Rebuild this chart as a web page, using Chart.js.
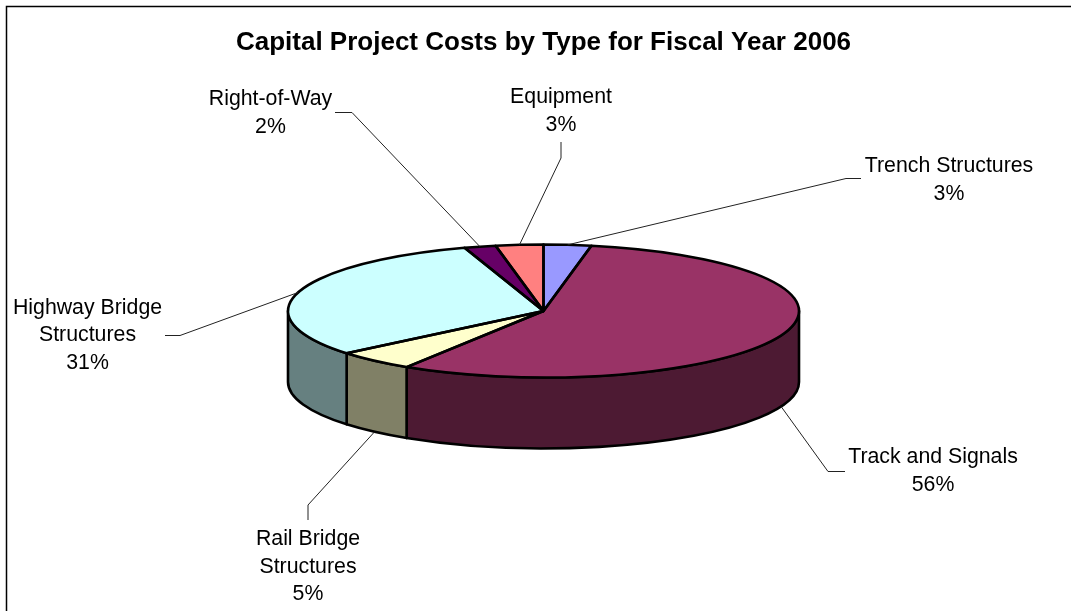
<!DOCTYPE html>
<html lang="en">
<head>
<meta charset="utf-8">
<title>Capital Project Costs by Type for Fiscal Year 2006</title>
<script src="https://cdn.jsdelivr.net/npm/chart.js@4"></script>
<style>
  html, body { margin: 0; padding: 0; background: #fff; overflow: hidden; }
  canvas { display: block; }
</style>
</head>
<body>
<canvas id="costChart" width="1071" height="611"></canvas>
<script>
const categories = ['Trench Structures', 'Track and Signals', 'Rail Bridge Structures', 'Highway Bridge Structures', 'Right-of-Way', 'Equipment'];
const shares = [3, 56, 5, 31, 2, 3];
const topColors = ['#9999FF', '#993366', '#FFFFCC', '#CCFFFF', '#660066', '#FF8080'];
const wallColors = ['#4D4D80', '#4D1A33', '#808066', '#668080', '#330033', '#804040'];

// label block per slice: wrapped lines, centre x, first baseline, then the elbow of the leader
const labelLines = [['Trench Structures'], ['Track and Signals'], ['Rail Bridge', 'Structures'], ['Highway Bridge', 'Structures'], ['Right-of-Way'], ['Equipment']];
const labelAnchors = [[949, 172], [933, 463], [308, 545], [87.5, 313.5], [270.5, 105], [561, 103]];
const leaderStarts = [[861, 178.5], [845, 471.5], [308, 520], [165, 335.5], [335, 112.5], [561, 142]];
const leaderElbows = [[846, 178.5], [828, 471.5], [308, 505], [180, 335.5], [352, 112.5], [561, 158]];

const TILT = 0.26;      // vertical squash of the pie disc
const DEPTH = 71;       // height of the side wall in px
const LINE_HEIGHT = 27.5;
const OUTLINE = 2.6;
const LABEL_FONT = '21.3px "Liberation Sans", Arial, sans-serif';

function squash(ctx, el) {
  ctx.translate(el.x, el.y);
  ctx.scale(1, TILT);
  ctx.translate(-el.x, -el.y);
}

// outer wall of one slice, only the part facing the viewer (canvas angles 0..PI)
function wallPath(ctx, el) {
  const from = Math.max(el.startAngle, 0);
  const to = Math.min(el.endAngle, Math.PI);
  if (to <= from) return false;
  const rx = el.outerRadius;
  const ry = el.outerRadius * TILT;
  ctx.beginPath();
  ctx.ellipse(el.x, el.y, rx, ry, 0, from, to);
  ctx.ellipse(el.x, el.y + DEPTH, rx, ry, 0, to, from, true);
  ctx.closePath();
  return true;
}

const piePerspective = {
  id: 'piePerspective',
  beforeDatasetsDraw(chart) {
    const ctx = chart.ctx;
    const arcs = chart.getDatasetMeta(0).data;
    ctx.save();
    ctx.strokeStyle = '#000';
    ctx.lineWidth = OUTLINE;
    ctx.lineJoin = 'round';
    arcs.forEach((el, i) => {
      if (!wallPath(ctx, el)) return;
      ctx.fillStyle = wallColors[i];
      ctx.fill();
      ctx.stroke();
    });
    ctx.restore();
    // the library draws the slices inside this squashed transform
    ctx.save();
    squash(ctx, arcs[0]);
  },
  afterDatasetsDraw(chart) {
    const ctx = chart.ctx;
    ctx.restore();
    // stroke after restoring so the outline keeps an even width
    ctx.save();
    ctx.strokeStyle = '#000';
    ctx.lineWidth = OUTLINE;
    ctx.lineJoin = 'round';
    chart.getDatasetMeta(0).data.forEach(el => {
      ctx.beginPath();
      ctx.moveTo(el.x, el.y);
      ctx.ellipse(el.x, el.y, el.outerRadius, el.outerRadius * TILT, 0, el.startAngle, el.endAngle);
      ctx.closePath();
      ctx.stroke();
    });
    ctx.restore();
  },
  afterDraw(chart) {
    const ctx = chart.ctx;
    const arcs = chart.getDatasetMeta(0).data;
    ctx.save();

    // chart frame, open on the right and at the bottom
    ctx.strokeStyle = '#000';
    ctx.lineWidth = 1.5;
    ctx.beginPath();
    ctx.moveTo(6.5, chart.height);
    ctx.lineTo(6.5, 6.5);
    ctx.lineTo(chart.width, 6.5);
    ctx.stroke();

    // leaders run to the rim at the middle of each slice
    ctx.lineWidth = 1;
    ctx.strokeStyle = '#222';
    arcs.forEach((el, i) => {
      const mid = (el.startAngle + el.endAngle) / 2;
      const rimX = el.x + Math.cos(mid) * el.outerRadius;
      const drop = Math.sin(mid) > 0 ? DEPTH : 0;
      const rimY = el.y + Math.sin(mid) * el.outerRadius * TILT + drop;
      ctx.beginPath();
      ctx.moveTo(leaderStarts[i][0], leaderStarts[i][1]);
      ctx.lineTo(leaderElbows[i][0], leaderElbows[i][1]);
      ctx.lineTo(rimX, rimY);
      ctx.stroke();
    });

    ctx.fillStyle = '#000';
    ctx.font = LABEL_FONT;
    ctx.textAlign = 'center';
    ctx.textBaseline = 'alphabetic';
    categories.forEach((name, i) => {
      const lines = labelLines[i].concat(shares[i] + '%');
      lines.forEach((line, n) => {
        ctx.fillText(line, labelAnchors[i][0], labelAnchors[i][1] + n * LINE_HEIGHT);
      });
    });
    ctx.restore();
  }
};

new Chart(document.getElementById('costChart').getContext('2d'), {
  type: 'pie',
  data: {
    labels: categories,
    datasets: [{
      data: shares,
      backgroundColor: topColors,
      borderWidth: 0
    }]
  },
  options: {
    responsive: false,
    animation: false,
    events: [],
    layout: { padding: { left: 16, right: 0, top: 0, bottom: 44.5 } },
    plugins: {
      legend: { display: false },
      tooltip: { enabled: false },
      title: {
        display: true,
        text: 'Capital Project Costs by Type for Fiscal Year 2006',
        color: '#000',
        font: { family: '"Liberation Sans", Arial, sans-serif', size: 26, weight: 'bold', lineHeight: 0.9 },
        padding: { top: 31.3, bottom: 0.8 }
      }
    }
  },
  plugins: [piePerspective]
});
</script>
</body>
</html>
